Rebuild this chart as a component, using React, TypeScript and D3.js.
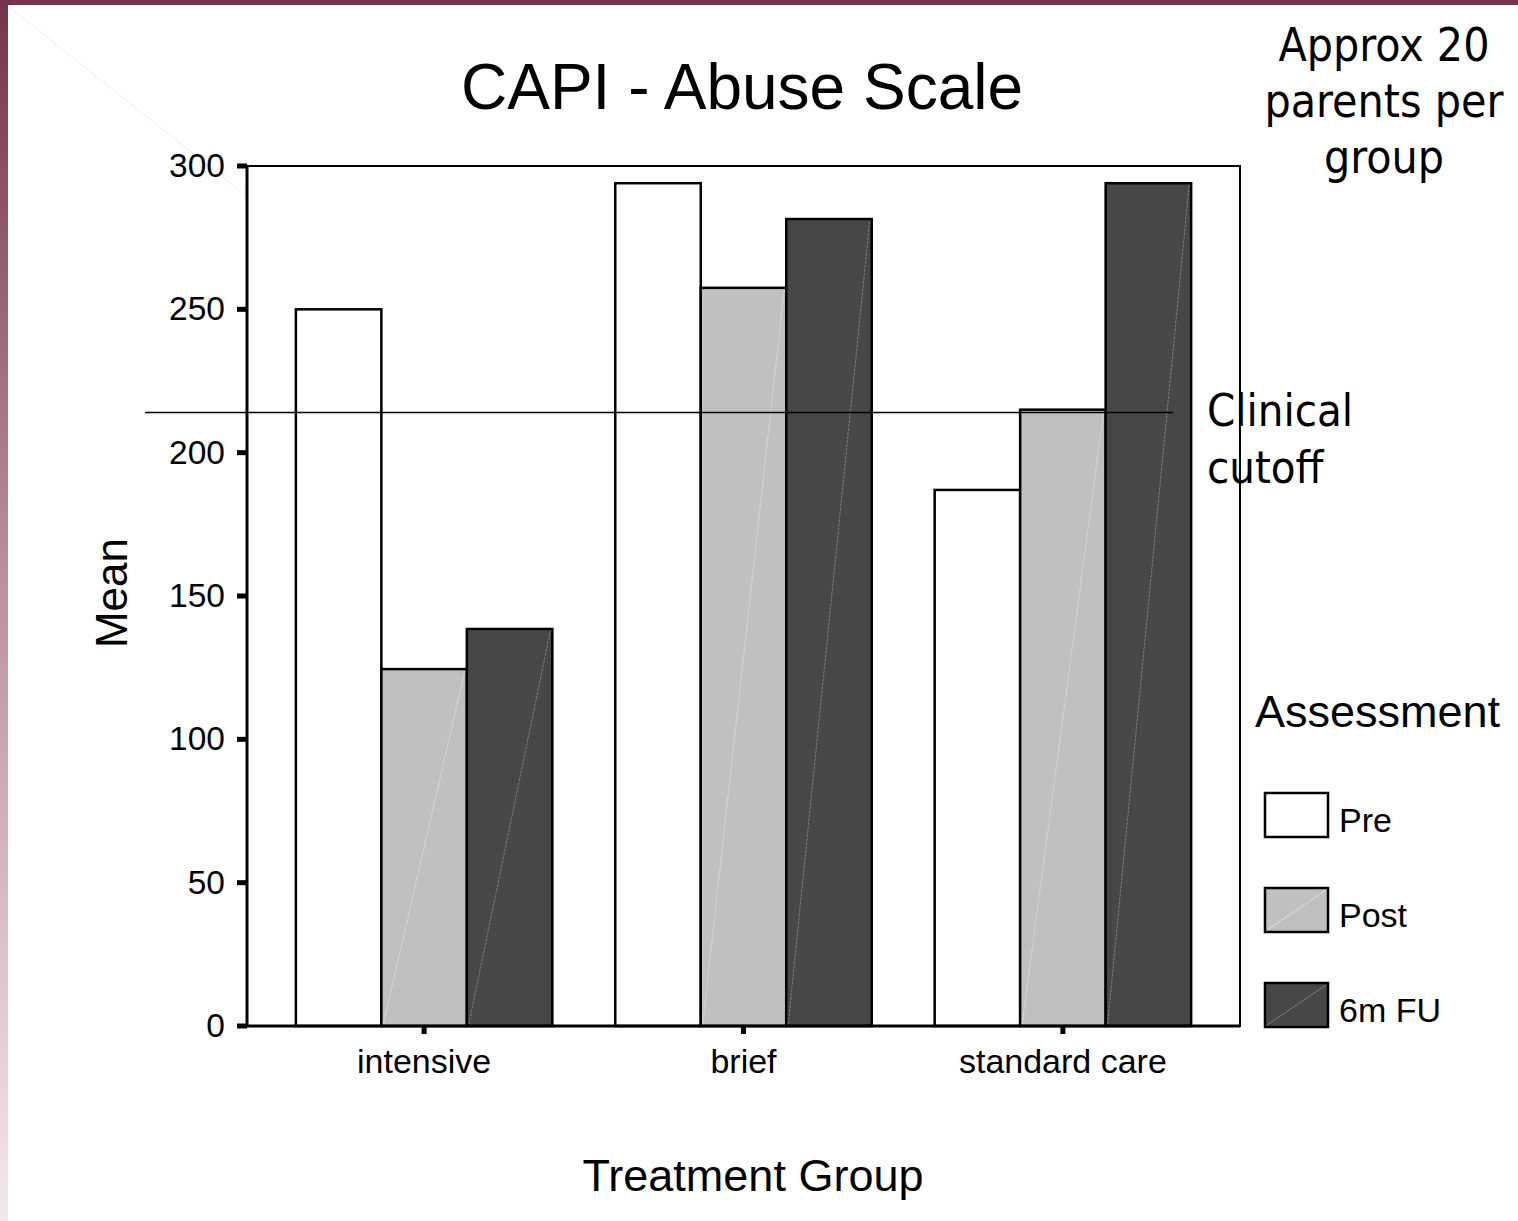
import React from "react";
import * as d3 from "d3";

const categories = ["intensive", "brief", "standard care"];
const series = ["Pre", "Post", "6m FU"];
const preValues = [250, 294, 187];
const postValues = [124.5, 257.5, 215];
const fuValues = [138.5, 281.5, 294];
const yTicks = [0, 50, 100, 150, 200, 250, 300];
const cutoffValue = 214;
const noteLines = ["Approx 20", "parents per", "group"];
const cutoffLines = ["Clinical", "cutoff"];

const fills = ["#ffffff", "#c0c0c0", "#474747"];
const diagColors = ["none", "#dcdcdc", "#7a7a7a"];

const W = 1518;
const H = 1221;
const left = 247, right = 1240, top = 166, bottom = 1026;
const ARIAL = "Liberation Sans, Arial, sans-serif";
const VERD = "DejaVu Sans Condensed, DejaVu Sans, sans-serif";

export default function App() {
  const y = d3.scaleLinear().domain([0, 300]).range([bottom, top]);
  const x0 = d3.scaleBand<string>().domain(categories).range([left, right]).paddingInner(0.197).paddingOuter(0.153);
  const x1 = d3.scaleBand<string>().domain(series).range([0, x0.bandwidth()]).padding(0);
  const valuesBySeries = [preValues, postValues, fuValues];

  return (
    <svg width={W} height={H} style={{ position: "absolute", left: 0, top: 0, background: "#fff" }}>
      <defs>
        <linearGradient id="side" x1="0" y1="0" x2="0" y2="1">
          <stop offset="0%" stopColor="#76334e" />
          <stop offset="45%" stopColor="#b88a9c" />
          <stop offset="100%" stopColor="#f3e8ec" />
        </linearGradient>
      </defs>
      <rect x={0} y={0} width={W} height={H} fill="#fff" />
      <rect x={0} y={0} width={8} height={H} fill="url(#side)" />
      <rect x={0} y={0} width={W} height={5} fill="#76334e" />
      <line x1={8} y1={6} x2={245} y2={195} stroke="#eeeeee" strokeWidth={1} />

      {/* title */}
      <text x={742} y={109} textAnchor="middle" fontFamily={ARIAL} fontSize={64} fill="#000">
        CAPI - Abuse Scale
      </text>

      {/* note */}
      {noteLines.map((t, i) => (
        <text key={t} x={1384} y={61 + i * 56} textAnchor="middle" fontFamily={VERD} fontStretch="condensed" fontSize={46} fill="#000">
          {t}
        </text>
      ))}

      {/* bars */}
      {categories.map((c, ci) => (
        <g key={c} transform={`translate(${x0(c)},0)`}>
          {series.map((s, si) => {
            const v = valuesBySeries[si][ci];
            const bx = x1(s)!;
            const bw = x1.bandwidth();
            const by = y(v);
            return (
              <g key={s}>
                <rect x={bx} y={by} width={bw} height={bottom - by} fill={fills[si]} stroke="#000" strokeWidth={2.5} />
                {si > 0 && (
                  <line x1={bx + 2} y1={bottom - 2} x2={bx + bw - 2} y2={by + 2} stroke={diagColors[si]} strokeWidth={1} strokeDasharray="3,1" />
                )}
              </g>
            );
          })}
        </g>
      ))}

      {/* frame */}
      <rect x={left} y={top} width={right - left} height={bottom - top} fill="none" stroke="#000" strokeWidth={2} />
      <line x1={left} y1={top} x2={left} y2={bottom} stroke="#000" strokeWidth={3} />
      <line x1={left} y1={bottom} x2={right} y2={bottom} stroke="#000" strokeWidth={3} />

      {/* y ticks */}
      {yTicks.map((t) => (
        <g key={t}>
          <line x1={237} x2={left} y1={y(t)} y2={y(t)} stroke="#000" strokeWidth={5} />
          <text x={225} y={y(t) + 11} textAnchor="end" fontFamily={ARIAL} fontSize={33.5} fill="#000">
            {t}
          </text>
        </g>
      ))}

      {/* x ticks */}
      {categories.map((c) => {
        const cx = x0(c)! + x0.bandwidth() / 2;
        return (
          <g key={c}>
            <line x1={cx} x2={cx} y1={bottom} y2={bottom + 8} stroke="#000" strokeWidth={5} />
            <text x={cx} y={1073} textAnchor="middle" fontFamily={ARIAL} fontSize={34} fill="#000">
              {c}
            </text>
          </g>
        );
      })}

      {/* axis titles */}
      <text transform="translate(127,593) rotate(-90)" textAnchor="middle" fontFamily={ARIAL} fontSize={44} fill="#000">
        Mean
      </text>
      <text x={753} y={1191} textAnchor="middle" fontFamily={ARIAL} fontSize={45} fill="#000">
        Treatment Group
      </text>

      {/* cutoff */}
      <line x1={145} x2={1173} y1={y(cutoffValue)} y2={y(cutoffValue)} stroke="#000" strokeWidth={1.5} />
      {cutoffLines.map((t, i) => (
        <text key={t} x={1207} y={426 + i * 57} fontFamily={VERD} fontStretch="condensed" fontSize={45} fill="#000">
          {t}
        </text>
      ))}

      {/* legend */}
      <text x={1255} y={727} fontFamily={ARIAL} fontSize={45} fill="#000">
        Assessment
      </text>
      {series.map((s, i) => {
        const ly = 793 + i * 95;
        return (
          <g key={s}>
            <rect x={1265} y={ly} width={63} height={44} fill={fills[i]} stroke="#000" strokeWidth={2.5} />
            {i > 0 && (
              <line x1={1267} y1={ly + 42} x2={1326} y2={ly + 2} stroke={diagColors[i]} strokeWidth={1} />
            )}
            <text x={1339} y={ly + 39} fontFamily={ARIAL} fontSize={34} fill="#000">
              {s}
            </text>
          </g>
        );
      })}
    </svg>
  );
}
